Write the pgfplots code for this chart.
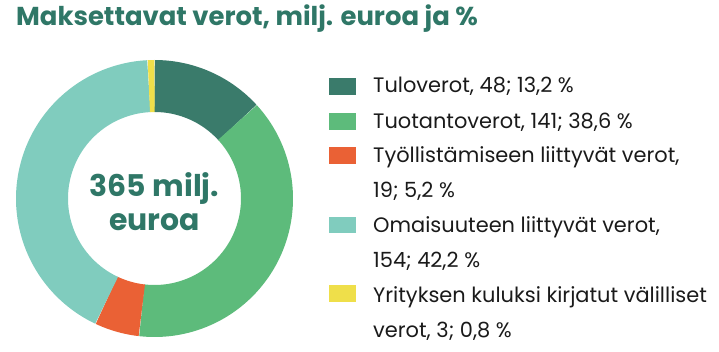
\documentclass[border=0pt]{standalone}
\usepackage{pgfplots}
\pgfplotsset{compat=1.18}
\usepackage{pgfplotstable}
\usepackage{fontspec}
\setmainfont{Poppins}
\definecolor{cTulo}{HTML}{3A7B6B}
\definecolor{cTuot}{HTML}{5DBB7B}
\definecolor{cTyo}{HTML}{EA6135}
\definecolor{cOma}{HTML}{80CCBE}
\definecolor{cYri}{HTML}{EFDF4A}
\definecolor{cTitle}{HTML}{2F7767}
\definecolor{cText}{HTML}{1A1A1A}

\pgfplotstableread{
value pct
48 13.2
141 38.6
19 5.2
154 42.2
3 0.8
}\datatable

\pgfplotstablegetelem{0}{pct}\of\datatable \let\pA\pgfplotsretval
\pgfplotstablegetelem{1}{pct}\of\datatable \let\pB\pgfplotsretval
\pgfplotstablegetelem{2}{pct}\of\datatable \let\pC\pgfplotsretval
\pgfplotstablegetelem{3}{pct}\of\datatable \let\pD\pgfplotsretval
\pgfplotstablegetelem{4}{pct}\of\datatable \let\pE\pgfplotsretval
\pgfmathsetmacro\aA{3.6*\pA}
\pgfmathsetmacro\aB{\aA+3.6*\pB}
\pgfmathsetmacro\aC{\aB+3.6*\pC}
\pgfmathsetmacro\aD{\aC+3.6*\pD}
\pgfmathsetmacro\aE{\aD+3.6*\pE}
\def\cx{154.5}
\def\cy{153.5}
\def\rmid{112.5}

\begin{document}
\begin{tikzpicture}
\begin{axis}[
  scale only axis, width=719bp, height=352bp,
  xmin=0, xmax=719, ymin=0, ymax=352,
  hide axis, clip=false,
]
\coordinate (ll) at (axis cs:0,0);
\coordinate (ur) at (axis cs:719,352);
\addplot[cTulo, line width=52bp, no marks, domain=0:\aA, samples=40, variable=\t] ({\cx+\rmid*sin(\t)}, {\cy+\rmid*cos(\t)});
\addplot[cTuot, line width=52bp, no marks, domain=\aA:\aB, samples=100, variable=\t] ({\cx+\rmid*sin(\t)}, {\cy+\rmid*cos(\t)});
\addplot[cTyo, line width=52bp, no marks, domain=\aB:\aC, samples=20, variable=\t] ({\cx+\rmid*sin(\t)}, {\cy+\rmid*cos(\t)});
\addplot[cOma, line width=52bp, no marks, domain=\aC:\aD, samples=100, variable=\t] ({\cx+\rmid*sin(\t)}, {\cy+\rmid*cos(\t)});
\addplot[cYri, line width=52bp, no marks, domain=\aD:\aE, samples=5, variable=\t] ({\cx+\rmid*sin(\t)}, {\cy+\rmid*cos(\t)});

% title
\node[anchor=base west, inner sep=0, text=cTitle, font=\fontsize{26}{30}\selectfont\bfseries] at (axis cs:16,326) {Maksettavat verot, milj. euroa ja \%};
% center
\node[anchor=base, inner sep=0, text=cTitle, font=\fontsize{30}{34}\selectfont\bfseries] at (axis cs:154.5,155) {365 milj.};
\node[anchor=base, inner sep=0, text=cTitle, font=\fontsize{30}{34}\selectfont\bfseries] at (axis cs:154.5,121) {euroa};

% legend
\fill[cTulo] (axis cs:329,257) rectangle (axis cs:356,274);
\fill[cTuot] (axis cs:329,222) rectangle (axis cs:356,239);
\fill[cTyo] (axis cs:329,188) rectangle (axis cs:356,205);
\fill[cOma] (axis cs:329,119) rectangle (axis cs:356,135);
\fill[cYri] (axis cs:329,50) rectangle (axis cs:356,67);
\begin{scope}[every node/.style={anchor=base west, inner sep=0, text=cText, font=\fontsize{21}{25}\selectfont}]
\node at (axis cs:373,259) {Tuloverot, 48; 13,2 \%};
\node at (axis cs:373,223) {Tuotantoverot, 141; 38,6 \%};
\node at (axis cs:373,189) {Työllistämiseen liittyvät verot,};
\node at (axis cs:373,154) {19; 5,2 \%};
\node at (axis cs:373,119) {Omaisuuteen liittyvät verot,};
\node at (axis cs:373,85) {154; 42,2 \%};
\node at (axis cs:373,50) {Yrityksen kuluksi kirjatut välilliset};
\node at (axis cs:373,15) {verot, 3; 0,8 \%};
\end{scope}
\end{axis}
\pgfresetboundingbox
\path[use as bounding box] (ll) rectangle (ur);
\end{tikzpicture}
\end{document}
